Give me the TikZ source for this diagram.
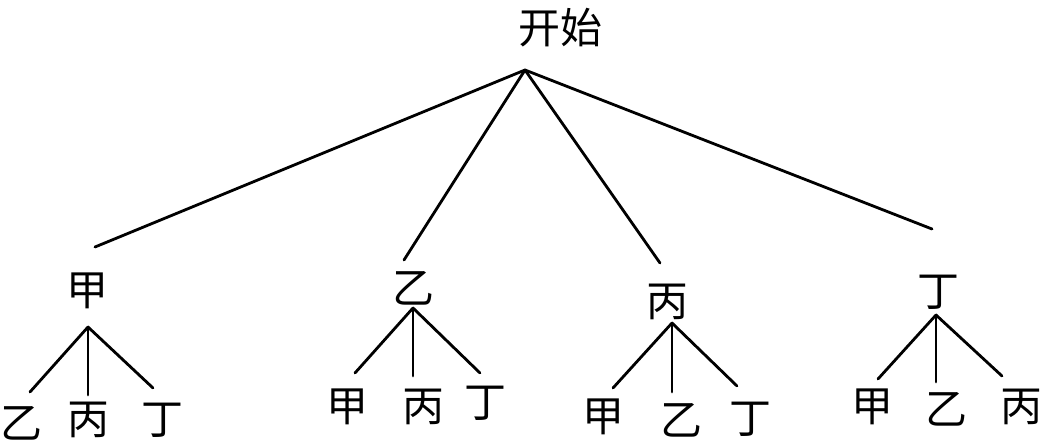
\documentclass[tikz,border=0pt]{standalone}
\usepackage{fontspec}
\newfontfamily\cjk{Noto Sans CJK SC}
\tikzstyle{word} = [font=\cjk\fontsize{21}{21}\selectfont,
inner sep=0pt]
\tikzstyle{branch} = [line width=1.4pt, line cap=round]

\begin{document}
\begin{tikzpicture}[x=0.5pt, y=-0.5pt]
    \useasboundingbox (0,0) rectangle (1051,444);

    \node (start) [word] at (560,28) {开始};
    \coordinate (root) at (525,70);

    % first choice
    \node (jia) [word] at (88,291) {甲};
    \node (yi) [word] at (413,288) {乙};
    \node (bing) [word] at (667,302) {丙};
    \node (ding) [word] at (938,292) {丁};

    \coordinate (jia-in) at (95,247);
    \coordinate (yi-in) at (404,260);
    \coordinate (bing-in) at (660,263);
    \coordinate (ding-in) at (932,229);

    \draw [branch] (root) -- (jia-in);
    \draw [branch] (root) -- (yi-in);
    \draw [branch] (root) -- (bing-in);
    \draw [branch] (root) -- (ding-in);

    % second choice
    \node (jia-yi) [word] at (21,423) {乙};
    \node (jia-bing) [word] at (89,420) {丙};
    \node (jia-ding) [word] at (162,420) {丁};

    \node (yi-jia) [word] at (347,407) {甲};
    \node (yi-bing) [word] at (423,407) {丙};
    \node (yi-ding) [word] at (485,403) {丁};

    \node (bing-jia) [word] at (603,417) {甲};
    \node (bing-yi) [word] at (681,420) {乙};
    \node (bing-ding) [word] at (750,419) {丁};

    \node (ding-jia) [word] at (872,407) {甲};
    \node (ding-yi) [word] at (946,409) {乙};
    \node (ding-bing) [word] at (1021,407) {丙};

    \coordinate (jia-out) at (88,327);
    \coordinate (yi-out) at (413,308);
    \coordinate (bing-out) at (672,323);
    \coordinate (ding-out) at (936,315);

    \coordinate (jia-yi-in) at (30,392);
    \coordinate (jia-bing-in) at (88,395);
    \coordinate (jia-ding-in) at (153,388);
    \coordinate (yi-jia-in) at (355,373);
    \coordinate (yi-bing-in) at (413,376);
    \coordinate (yi-ding-in) at (480,373);
    \coordinate (bing-jia-in) at (613,388);
    \coordinate (bing-yi-in) at (672,392);
    \coordinate (bing-ding-in) at (737,386);
    \coordinate (ding-jia-in) at (878,379);
    \coordinate (ding-yi-in) at (936,382);
    \coordinate (ding-bing-in) at (1002,376);

    \draw [branch] (jia-out) -- (jia-yi-in);
    \draw [branch] (jia-out) -- (jia-bing-in);
    \draw [branch] (jia-out) -- (jia-ding-in);

    \draw [branch] (yi-out) -- (yi-jia-in);
    \draw [branch] (yi-out) -- (yi-bing-in);
    \draw [branch] (yi-out) -- (yi-ding-in);

    \draw [branch] (bing-out) -- (bing-jia-in);
    \draw [branch] (bing-out) -- (bing-yi-in);
    \draw [branch] (bing-out) -- (bing-ding-in);

    \draw [branch] (ding-out) -- (ding-jia-in);
    \draw [branch] (ding-out) -- (ding-yi-in);
    \draw [branch] (ding-out) -- (ding-bing-in);

\end{tikzpicture}
\end{document}
